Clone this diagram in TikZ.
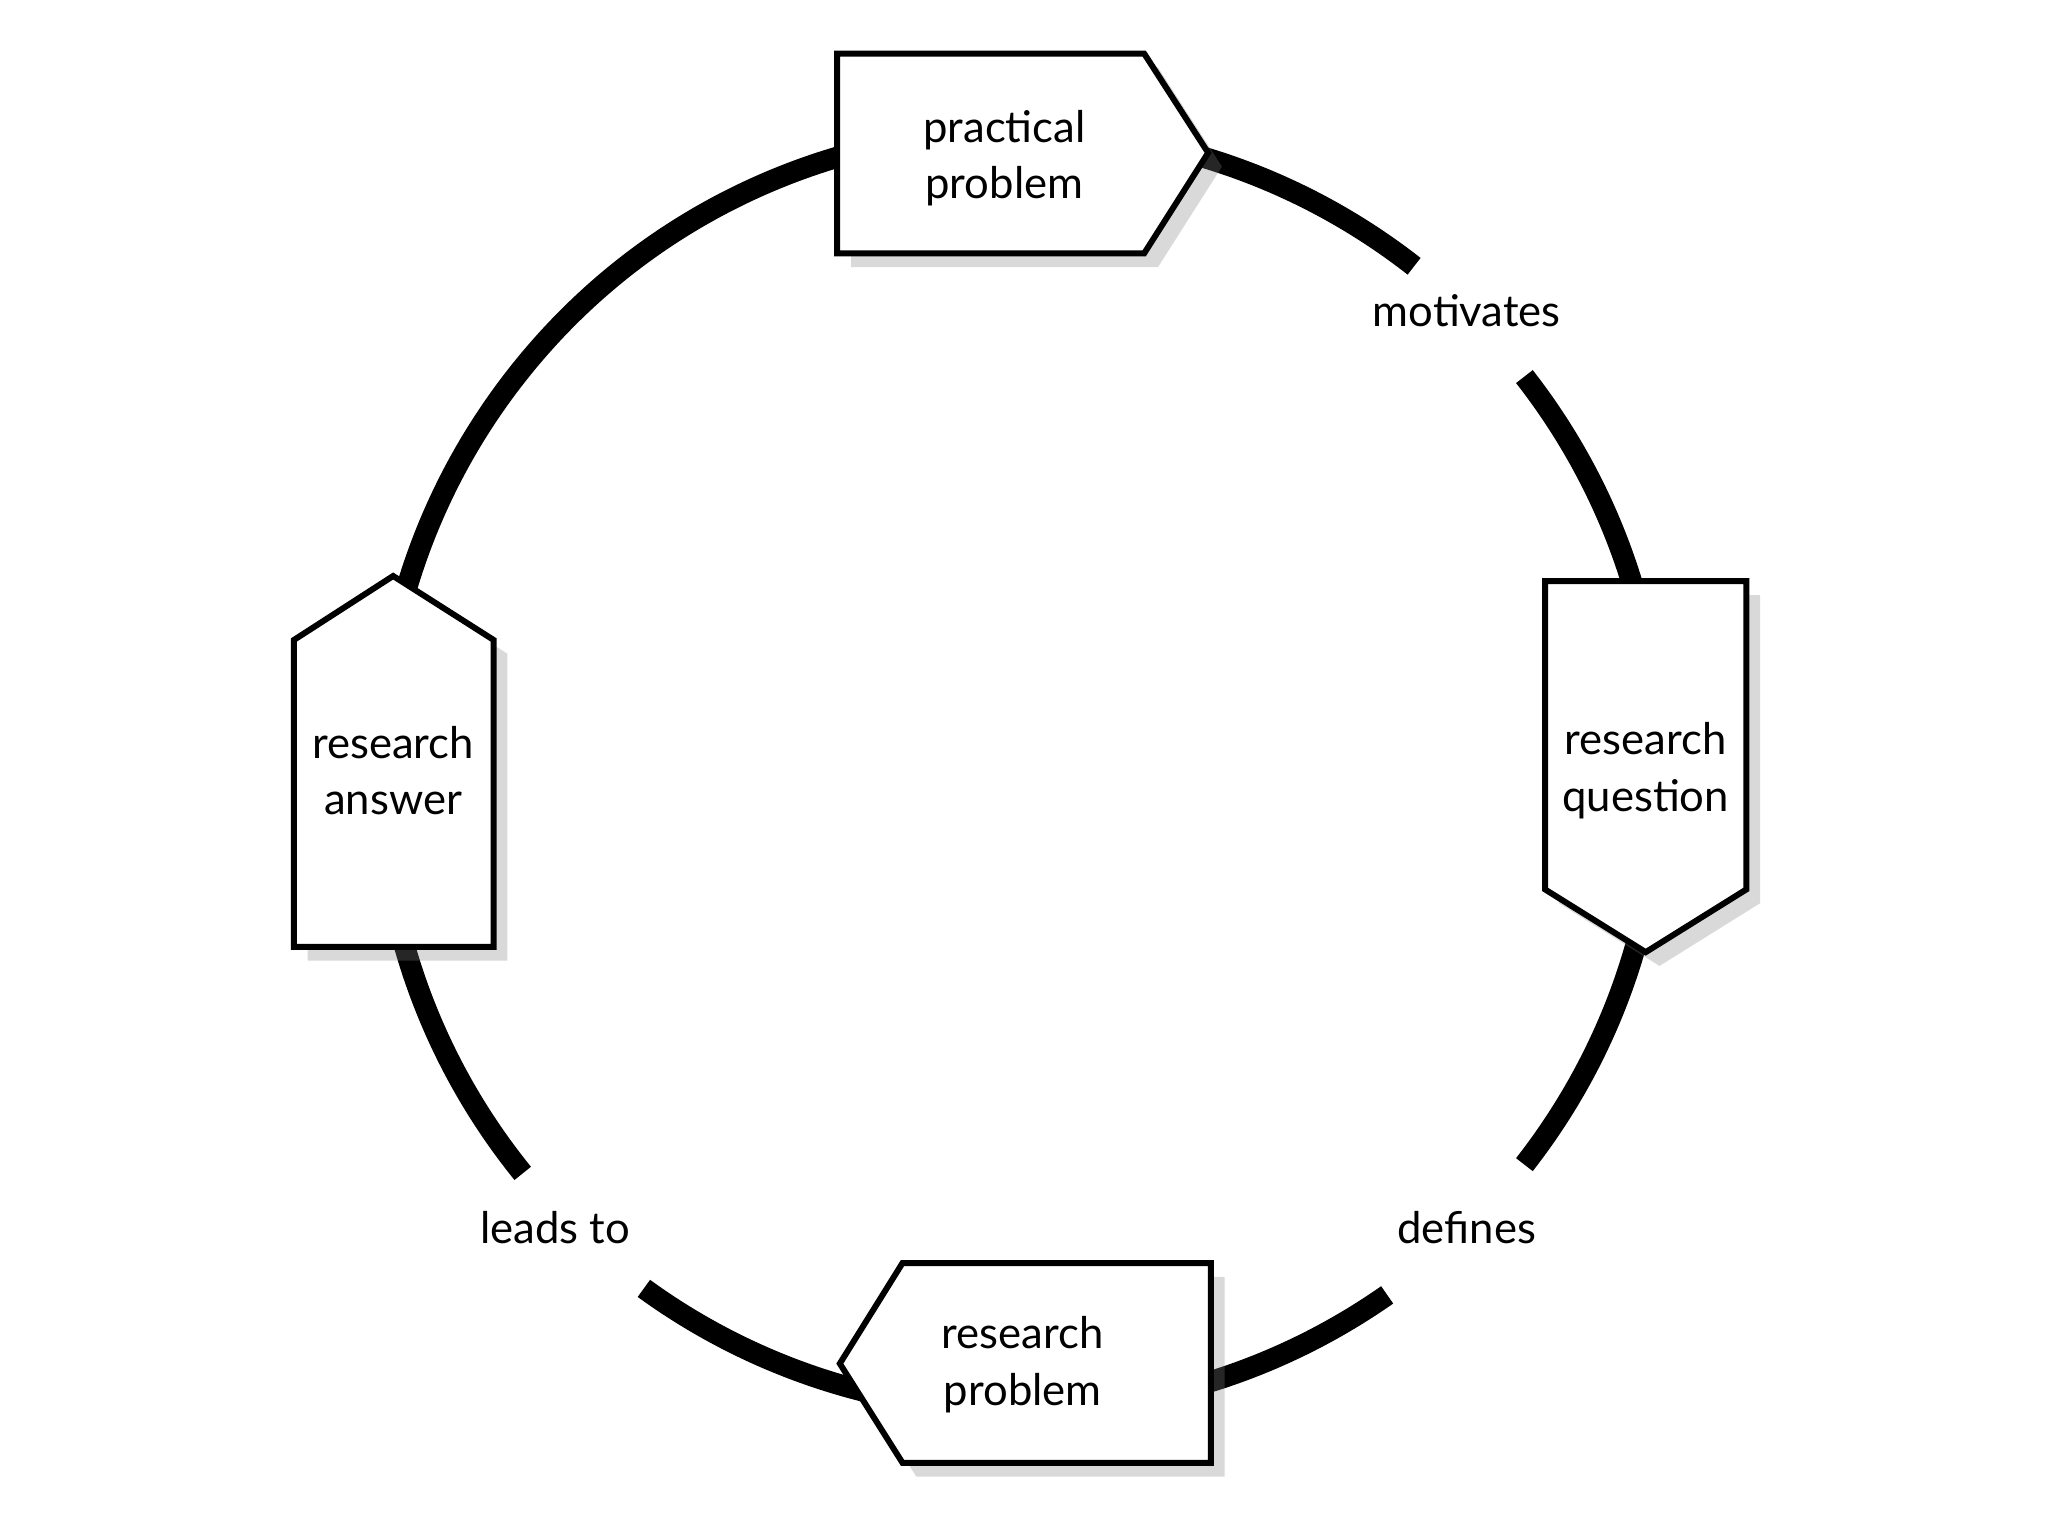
\documentclass[tikz,border=0pt]{standalone}
\usepackage{fontspec}
\setmainfont{Lato}
\usetikzlibrary{shadows}
\begin{document}
\begin{tikzpicture}[x=0.01cm,y=-0.01cm,
  ring/.style={line width=4.6pt},
  tag/.style={draw=black,line width=1.3pt,fill=white,drop shadow={shadow xshift=3pt,shadow yshift=-3pt,opacity=0.3}},
  lbl/.style={font=\fontsize{9.5}{12.3}\selectfont,align=center},
  edgelbl/.style={font=\fontsize{9.5}{12.3}\selectfont}]
\useasboundingbox (0,0) rectangle (1568,1176);
\coordinate (c) at (781,590);
\draw[ring] ([shift={(-52:490)}]c) arc[start angle=-52,end angle=-219,radius=490];
\draw[ring] ([shift={(-234:490)}]c) arc[start angle=-234,end angle=-305,radius=490];
\draw[ring] ([shift={(38:490)}]c) arc[start angle=38,end angle=-38,radius=490];
\path[tag] (641,41) -- (876,41) -- (925,117) -- (876,194) -- (641,194) -- cycle;
\node[lbl] (pp) at (769,121) {practical\\problem};
\path[tag] (1183,445) -- (1337,445) -- (1337,681) -- (1260,729) -- (1183,681) -- cycle;
\node[lbl] (rq) at (1260,590) {research\\question};
\path[tag] (691,967) -- (927,967) -- (927,1120) -- (691,1120) -- (643,1044) -- cycle;
\node[lbl] (rp) at (783,1045) {research\\problem};
\path[tag] (225,490) -- (301,441) -- (378,490) -- (378,725) -- (225,725) -- cycle;
\node[lbl] (ra) at (301,590) {research\\answer};
\node[edgelbl] (m) at (1123,238) {motivates};
\node[edgelbl] (d) at (1123,940) {defines};
\node[edgelbl] (l) at (425,940) {leads to};
\end{tikzpicture}
\end{document}
